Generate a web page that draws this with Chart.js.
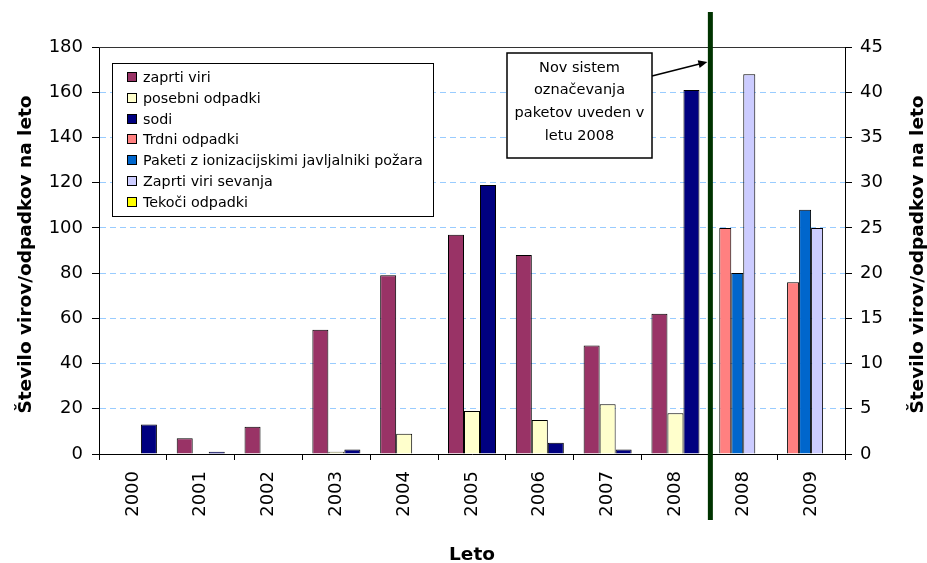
<!DOCTYPE html>
<html>
<head>
<meta charset="utf-8">
<script src="https://cdn.jsdelivr.net/npm/chart.js@4.4.1/dist/chart.umd.min.js"></script>
<style>html,body{margin:0;padding:0;background:#fff;}canvas{display:block;}</style>
</head>
<body>
<canvas id="c" width="927" height="563"></canvas>
<script>
// ---- data ----
const categories = ['2000','2001','2002','2003','2004','2005','2006','2007','2008','2008','2009'];
// left axis series
const zaprtiViri        = [0, 7, 12, 55, 79, 97, 88, 48, 62, null, null];
const posebniOdpadki    = [0, 0, 0, 1, 9, 19, 15, 22, 18, null, null];
const sodi              = [13, 1, 0, 2, 0, 119, 5, 2, 161, null, null];
// right axis series
const trdniOdpadki      = [null, null, null, null, null, null, null, null, null, 25, 19];
const paketi            = [null, null, null, null, null, null, null, null, null, 20, 27];
const zaprtiViriSevanja = [null, null, null, null, null, null, null, null, null, 42, 25];
const tekociOdpadki     = [null, null, null, null, null, null, null, null, null, 0, 0];
const seriesNames = ['zaprti viri','posebni odpadki','sodi','Trdni odpadki',
  'Paketi z ionizacijskimi javljalniki požara','Zaprti viri sevanja','Tekoči odpadki'];
const leftAxisMax = 180, leftAxisStep = 20;
const rightAxisMax = 45, rightAxisStep = 5;
const axisTitleY = 'Število virov/odpadkov na leto';
const axisTitleX = 'Leto';
const noteLines = ['Nov sistem', 'označevanja', 'paketov uveden v', 'letu 2008'];
const dividerAfterIndex = 8; // vertical line between category 8 and 9

const FONT = 'DejaVu Sans';
const colors = ['#993366','#FFFFCC','#000080','#FF8080','#0066CC','#CCCCFF','#FFFF00'];
const catPct = 0.708;

function ds(i, data, y) {
  return { label: seriesNames[i], data, yAxisID: y,
    backgroundColor: colors[i], borderColor: '#000', borderWidth: 1,
    categoryPercentage: catPct, barPercentage: 1.0, skipNull: true };
}

const extras = {
  id: 'extras',
  afterDraw(chart) {
    const ctx = chart.ctx, a = chart.chartArea, xs = chart.scales.x;
    ctx.save();
    // top border of plot area
    ctx.strokeStyle = '#333'; ctx.lineWidth = 1;
    ctx.beginPath(); ctx.moveTo(a.left, a.top + 0.5); ctx.lineTo(a.right, a.top + 0.5); ctx.stroke();

    // legend box
    const lx = 112, ly = 63, lw = 321, lh = 153;
    ctx.fillStyle = '#fff'; ctx.fillRect(lx, ly, lw, lh);
    ctx.strokeStyle = '#000'; ctx.lineWidth = 1;
    ctx.strokeRect(lx + 0.5, ly + 0.5, lw, lh);
    ctx.font = '14.3px "' + FONT + '"';
    ctx.textBaseline = 'middle'; ctx.textAlign = 'left';
    chart.data.datasets.forEach((d, i) => {
      const cy = Math.round(77 + i * 20.8);
      ctx.fillStyle = d.backgroundColor;
      ctx.fillRect(127, cy - 5, 10, 10);
      ctx.strokeStyle = '#000';
      ctx.strokeRect(127.5, cy - 4.5, 9, 9);
      ctx.fillStyle = '#000';
      ctx.fillText(d.label, 143, cy + 1);
    });

    // annotation box
    const bx = 507, by = 53, bw = 145, bh = 105;
    ctx.fillStyle = '#fff'; ctx.fillRect(bx, by, bw, bh);
    ctx.lineWidth = 1.5; ctx.strokeStyle = '#000';
    ctx.strokeRect(bx, by, bw, bh);
    ctx.fillStyle = '#000'; ctx.textAlign = 'center';
    ctx.font = '14.5px "' + FONT + '"';
    noteLines.forEach((t, i) => ctx.fillText(t, bx + bw / 2, 68 + i * 22.7));

    // divider line
    const dx = (xs.getPixelForValue(dividerAfterIndex) + xs.getPixelForValue(dividerAfterIndex + 1)) / 2 + 1;
    ctx.fillStyle = '#003300';
    ctx.fillRect(dx - 2.5, 12, 5, 508);

    // arrow
    const x1 = bx + bw, y1 = 76, x2 = dx - 3, y2 = 62;
    ctx.strokeStyle = '#000'; ctx.lineWidth = 1.5;
    ctx.beginPath(); ctx.moveTo(x1, y1); ctx.lineTo(x2 - 6, y2 + 1.5); ctx.stroke();
    const ang = Math.atan2(y2 - y1, x2 - x1);
    ctx.fillStyle = '#000';
    ctx.beginPath();
    ctx.moveTo(x2, y2);
    ctx.lineTo(x2 - 9 * Math.cos(ang) + 4 * Math.sin(ang), y2 - 9 * Math.sin(ang) - 4 * Math.cos(ang));
    ctx.lineTo(x2 - 9 * Math.cos(ang) - 4 * Math.sin(ang), y2 - 9 * Math.sin(ang) + 4 * Math.cos(ang));
    ctx.closePath(); ctx.fill();

    // axis titles
    ctx.fillStyle = '#000';
    ctx.font = 'bold 18.5px "' + FONT + '"';
    ctx.textAlign = 'center'; ctx.textBaseline = 'alphabetic';
    const cyT = (a.top + a.bottom) / 2 + 4;
    ctx.save(); ctx.translate(31, cyT); ctx.rotate(-Math.PI / 2); ctx.fillText(axisTitleY, 0, 0); ctx.restore();
    ctx.save(); ctx.translate(923, cyT); ctx.rotate(-Math.PI / 2); ctx.fillText(axisTitleY, 0, 0); ctx.restore();
    ctx.fillText(axisTitleX, (a.left + a.right) / 2, 560);
    ctx.restore();
  }
};

new Chart(document.getElementById('c'), {
  type: 'bar',
  data: {
    labels: categories,
    datasets: [
      ds(0, zaprtiViri, 'y'),
      ds(1, posebniOdpadki, 'y'),
      ds(2, sodi, 'y'),
      ds(3, trdniOdpadki, 'y2'),
      ds(4, paketi, 'y2'),
      ds(5, zaprtiViriSevanja, 'y2'),
      ds(6, tekociOdpadki, 'y2')
    ]
  },
  options: {
    responsive: false, animation: false, devicePixelRatio: 1,
    layout: { padding: { top: 47, left: 0, right: 0, bottom: 0 } },
    plugins: { legend: { display: false }, tooltip: { enabled: false } },
    scales: {
      x: {
        type: 'category', offset: true, position: 'bottom',
        grid: { offset: true, drawOnChartArea: false, drawTicks: true, tickLength: 6, tickColor: '#000' },
        border: { color: '#000', width: 1 },
        ticks: { autoSkip: false, minRotation: 90, maxRotation: 90, padding: 11, color: '#000',
                 font: { family: FONT, size: 18 } },
        afterFit(s) { s.height = 109; }
      },
      y: {
        position: 'left', min: 0, max: leftAxisMax,
        ticks: { stepSize: leftAxisStep, padding: 9, color: '#000', font: { family: FONT, size: 18 } },
        grid: {
          color: c => (c.tick && (c.tick.value === 0 || c.tick.value === leftAxisMax)) ? 'rgba(0,0,0,0)' : '#99CCFF',
          tickColor: '#000', tickLength: 7, lineWidth: 1
        },
        border: { color: '#000', width: 1, dash: [6, 4] },
        afterFit(s) { s.width = 99; }
      },
      y2: {
        position: 'right', min: 0, max: rightAxisMax,
        ticks: { stepSize: rightAxisStep, padding: 8, color: '#000', font: { family: FONT, size: 18 } },
        grid: { drawOnChartArea: false, tickColor: '#000', tickLength: 7 },
        border: { color: '#000', width: 1 },
        afterFit(s) { s.width = 82; }
      }
    }
  },
  plugins: [extras]
});
</script>
</body>
</html>
